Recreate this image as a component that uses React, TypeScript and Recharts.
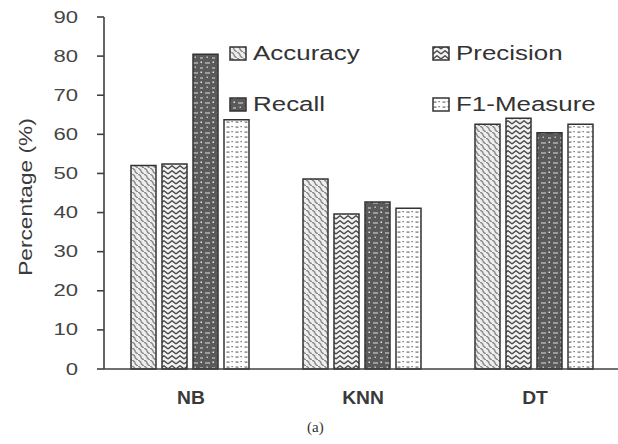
import React from 'react';
import { BarChart, Bar, XAxis, YAxis } from 'recharts';

const categories = ['NB', 'KNN', 'DT'];
const accuracy = [52.0, 48.6, 62.6];
const precision = [52.4, 39.6, 64.1];
const recall = [80.5, 42.7, 60.4];
const f1Measure = [63.7, 41.1, 62.6];
const yTicks = [0, 10, 20, 30, 40, 50, 60, 70, 80, 90];

const series = [
  { key: 'accuracy', name: 'Accuracy', pattern: 'pat-acc' },
  { key: 'precision', name: 'Precision', pattern: 'pat-prec' },
  { key: 'recall', name: 'Recall', pattern: 'pat-rec' },
  { key: 'f1', name: 'F1-Measure', pattern: 'pat-f1' },
];

const data = categories.map((c, i) => ({
  name: c,
  accuracy: accuracy[i],
  precision: precision[i],
  recall: recall[i],
  f1: f1Measure[i],
}));

const AXIS = '#404040';
const FONT = '"Liberation Sans", Arial, sans-serif';

// hatch fills, defined once and referenced by bars and legend swatches
const Patterns = () => (
  <svg width={0} height={0} style={{ position: 'absolute' }}>
    <defs>
      <pattern id="pat-acc" width={6} height={6} patternUnits="userSpaceOnUse">
        <rect width={6} height={6} fill="#eeeeee" />
        <path d="M-1,1 L1,-1 M0,0 Q3,1.5 3,3 Q3,4.5 6,6 M5,7 L7,5" stroke="#8a8a8a" strokeWidth={1.5} fill="none" />
      </pattern>
      <pattern id="pat-prec" width={8} height={5} patternUnits="userSpaceOnUse">
        <rect width={8} height={5} fill="#f2f2f2" />
        <path d="M0,4 L4,0.8 L8,4" stroke="#4a4a4a" strokeWidth={1.4} fill="none" />
      </pattern>
      <pattern id="pat-rec" width={12} height={10} patternUnits="userSpaceOnUse">
        <rect width={12} height={10} fill="#5a5a5a" />
        <path d="M1,3 L6,3 M8,8 L11,8" stroke="#dddddd" strokeWidth={1.2} />
        <rect x={8.5} y={1.5} width={1.5} height={1.5} fill="#e8e8e8" />
        <rect x={2.5} y={6.5} width={1.5} height={1.5} fill="#c0c0c0" />
      </pattern>
      <pattern id="pat-f1" width={9} height={5} patternUnits="userSpaceOnUse">
        <rect width={9} height={5} fill="#ffffff" />
        <rect x={1.5} y={1.5} width={3} height={1.2} fill="#6e6e6e" />
        <rect x={6.5} y={1} width={1.2} height={1.2} fill="#555555" />
      </pattern>
    </defs>
  </svg>
);

const YTick = ({ x, y, payload }: any) => (
  <text
    transform={`translate(${x - 17},${y + 5.5}) scale(1.38,1)`}
    textAnchor="end"
    fontFamily={FONT}
    fontSize={16}
    fill="#454545"
  >
    {payload.value}
  </text>
);

const XTick = ({ x, y, payload }: any) => (
  <text
    transform={`translate(${x + 1},${y + 27}) scale(1.1,1)`}
    textAnchor="middle"
    fontFamily={FONT}
    fontSize={17.5}
    fontWeight="bold"
    fill="#3a3a3a"
  >
    {payload.value}
  </text>
);

const YLabel = ({ viewBox }: any) => {
  const cx = viewBox.x + 25;
  const cy = viewBox.y + viewBox.height / 2 + 4;
  return (
    <text
      transform={`translate(${cx},${cy}) rotate(-90) scale(1.26,1)`}
      textAnchor="middle"
      dominantBaseline="central"
      fontFamily={FONT}
      fontSize={18}
      fill="#3a3a3a"
    >
      Percentage (%)
    </text>
  );
};

const LegendBox = () => (
  <svg width={400} height={90}>
    {series.map((s, i) => {
      const col = i % 2;
      const row = Math.floor(i / 2);
      const x = 5 + col * 203;
      const y = 7 + row * 51;
      return (
        <g key={s.key}>
          <rect x={x} y={y} width={16} height={13} fill={`url(#${s.pattern})`} stroke="#333" strokeWidth={1.5} />
          <text
            transform={`translate(${x + 23},${y + 13}) scale(1.33,1)`}
            fontFamily={FONT}
            fontSize={19.5}
            fill="#333"
          >
            {s.name}
          </text>
        </g>
      );
    })}
  </svg>
);

export default function App() {
  return (
    <div style={{ position: 'absolute', left: 0, top: 0, width: 618, height: 444, background: '#fff', overflow: 'hidden' }}>
      <Patterns />
      <BarChart
        width={618}
        height={444}
        data={data}
        margin={{ top: 17, right: -2, left: 0, bottom: 0 }}
        barSize={25}
        barGap={6}
      >
        <XAxis
          dataKey="name"
          height={75}
          tickLine={false}
          axisLine={{ stroke: AXIS, strokeWidth: 1.6 }}
          tick={<XTick />}
        />
        <YAxis
          width={104}
          domain={[0, 90]}
          ticks={yTicks}
          interval={0}
          tickSize={7}
          axisLine={{ stroke: AXIS, strokeWidth: 1.6 }}
          tickLine={{ stroke: AXIS, strokeWidth: 1.6 }}
          tick={<YTick />}
          label={<YLabel />}
        />
        {series.map((s) => (
          <Bar
            key={s.key}
            dataKey={s.key}
            name={s.name}
            fill={`url(#${s.pattern})`}
            stroke="#333"
            strokeWidth={1.5}
            isAnimationActive={false}
          />
        ))}
      </BarChart>
      <div style={{ position: 'absolute', left: 225, top: 40 }}>
        <LegendBox />
      </div>
      <div
        style={{
          position: 'absolute',
          left: 307,
          top: 419,
          fontFamily: '"Liberation Serif", "Times New Roman", serif',
          fontSize: 15,
          color: '#333',
        }}
      >
        (a)
      </div>
    </div>
  );
}
